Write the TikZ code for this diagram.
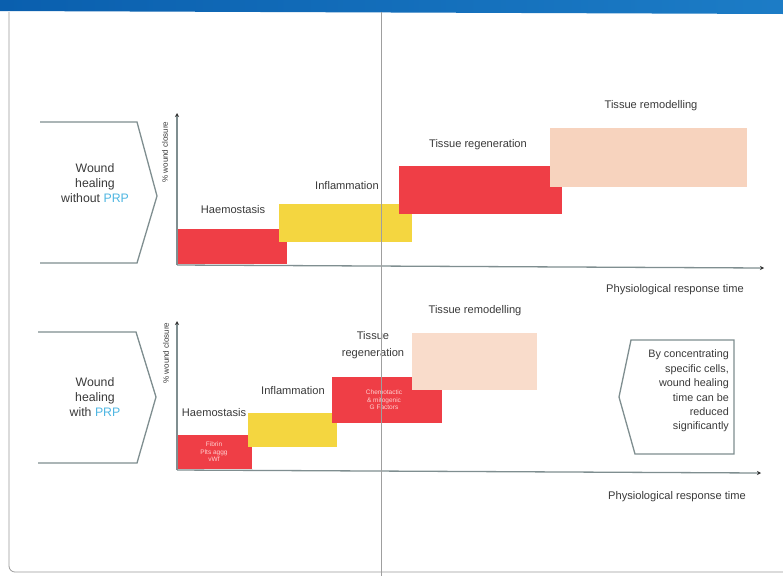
\documentclass[tikz,border=0pt]{standalone}
\usepackage{fontspec}
\setmainfont{Liberation Sans}
\usetikzlibrary{arrows.meta}
\definecolor{bandblue}{HTML}{0A5FAE}
\definecolor{bandlight}{HTML}{1C7CC6}
\definecolor{phred}{HTML}{EF3E46}
\definecolor{phyellow}{HTML}{F4D640}
\definecolor{phpeach}{HTML}{F7D3BE}
\definecolor{phpeachlight}{HTML}{F9DCCB}
\definecolor{axisgray}{HTML}{7F8E90}
\definecolor{txtgray}{HTML}{3A3A3A}
\definecolor{prpblue}{HTML}{4DB6E2}
\definecolor{framegray}{HTML}{9A9A9A}
\begin{document}
\begin{tikzpicture}[x=1pt,y=-1pt,
  phasebox/.style={inner sep=0pt, outer sep=0pt, anchor=north west, draw=none},
  lbl/.style={font=\fontsize{11.1}{13}\selectfont, text=txtgray, inner sep=0pt, align=center},
  ylbl/.style={font=\fontsize{8}{9}\selectfont, text=txtgray, inner sep=0pt, rotate=90},
  intext/.style={font=\fontsize{6.5}{7.6}\selectfont, text=white!82!red, inner sep=0pt, align=center},
  woundtxt/.style={font=\fontsize{12.3}{15}\selectfont, text=txtgray, inner sep=0pt, align=center},
  chev/.style={draw=axisgray, line width=1.3pt, line join=miter},
  axisline/.style={draw=axisgray, line width=1.3pt, -{Stealth[length=4pt,width=4pt,black!80]}}]
\useasboundingbox (0,0) rectangle (783,576);
\fill[white] (0,0) rectangle (783,576);
% top band
\shade[left color=bandblue, right color=bandlight] (0,0) -- (783,0) -- (783,14) -- (0,11) -- cycle;
% frame
\draw[framegray, line width=0.8pt, rounded corners=6pt] (9,12) -- (9,572) -- (783,572);

% ---------- upper panel ----------
\node[woundtxt] (w1) at (95,183) {Wound\\healing\\without \textcolor{prpblue}{PRP}};
\draw[chev] (40,122) -- (137,122) -- (157,196) -- (137,263) -- (40,263);
\node[ylbl] (yl1) at (165,152) {\% wound closure};
\coordinate (o1) at (177,265);
\coordinate (yt1) at (177,113);
\coordinate (xe1) at (764,268);
\node[phasebox, fill=phred, minimum width=111pt, minimum height=35pt] (h1) at (176,229) {};
\node[phasebox, fill=phyellow, minimum width=133pt, minimum height=38pt] (i1) at (279,204) {};
\node[phasebox, fill=phred, minimum width=163pt, minimum height=48pt] (r1) at (399,166) {};
\node[phasebox, fill=phpeach, minimum width=197pt, minimum height=59pt] (m1) at (550,128) {};
\draw[axisline] (o1) -- (yt1);
\draw[axisline] (o1) -- (xe1);
\node[lbl] (lh1) at (233,210) {Haemostasis};
\node[lbl] (li1) at (347,186) {Inflammation};
\node[lbl] (lr1) at (478,145) {Tissue regeneration};
\node[lbl] (lm1) at (651,106) {Tissue remodelling};
\node[lbl] (lt1) at (675,290) {Physiological response time};

% ---------- lower panel ----------
\node[woundtxt] (w2) at (95,397) {Wound\\healing\\with \textcolor{prpblue}{PRP}};
\draw[chev] (38,332) -- (136,332) -- (156,397) -- (137,463) -- (38,463);
\node[ylbl] (yl2) at (166,353) {\% wound closure};
\coordinate (o2) at (177,470);
\coordinate (yt2) at (177,321);
\coordinate (xe2) at (761,473);
\node[phasebox, fill=phred, minimum width=76pt, minimum height=34pt] (h2) at (176,435) {};
\node[phasebox, fill=phyellow, minimum width=89pt, minimum height=34pt] (i2) at (248,413) {};
\node[phasebox, fill=phred, minimum width=110pt, minimum height=46pt] (r2) at (332,377) {};
\node[phasebox, fill=phpeachlight, minimum width=125pt, minimum height=57pt] (m2) at (412,333) {};
\node[intext] (th2) at (214,452) {Fibrin\\Plts aggg\\vWf};
\node[intext] (tr2) at (384,400) {Chemotactic\\\& mitogenic\\G Factors};
\draw[axisline] (o2) -- (yt2);
\draw[axisline] (o2) -- (xe2);
\node[lbl] (lh2) at (214,413) {Haemostasis};
\node[lbl] (li2) at (293,391) {Inflammation};
\node[lbl, font=\fontsize{11.1}{17}\selectfont] (lr2) at (373,345) {Tissue\\regeneration};
\node[lbl] (lm2) at (475,311) {Tissue remodelling};
\node[lbl] (lt2) at (677,497) {Physiological response time};

% callout
\draw[chev] (631,340) -- (734,340) -- (734,454) -- (635,454) -- (619,397) -- cycle;
\node[font=\fontsize{10.8}{14.4}\selectfont, text=txtgray, inner sep=0pt, align=right, anchor=east] (call) at (729,391)
  {By concentrating\\specific cells,\\wound healing\\time can be\\reduced\\significantly};

% fold line
\draw[gray!75, line width=0.9pt] (381,12) -- (381,576);
\end{tikzpicture}
\end{document}
